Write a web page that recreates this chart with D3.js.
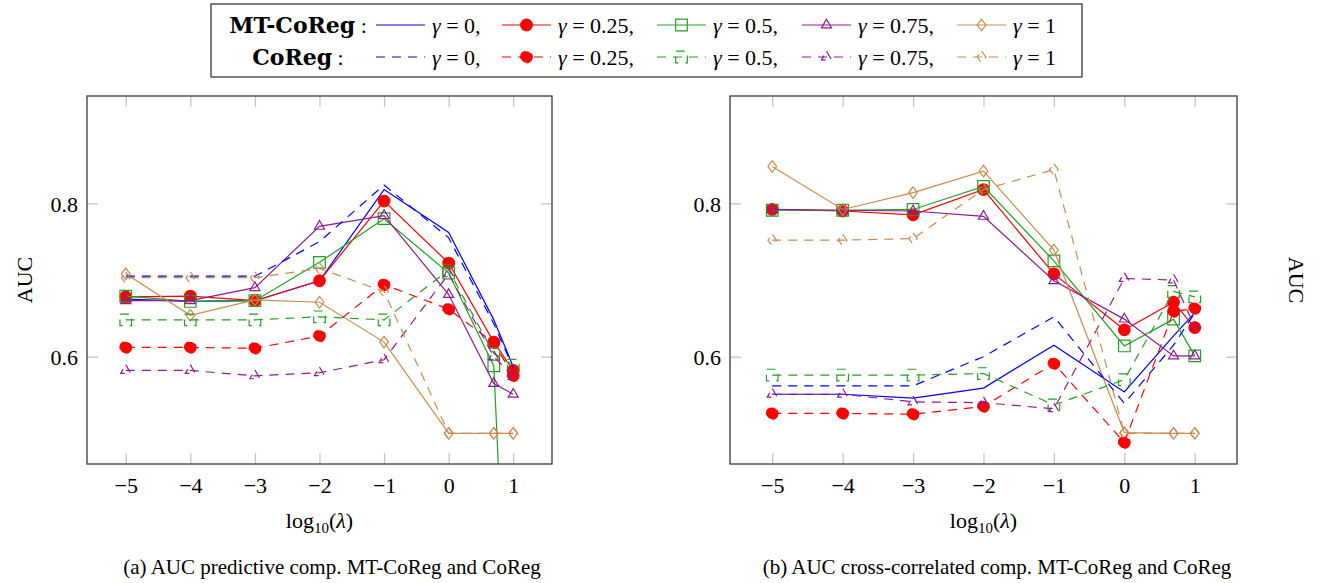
<!DOCTYPE html>
<html>
<head>
<meta charset="utf-8">
<script src="https://cdn.jsdelivr.net/npm/d3@7"></script>
<style>
  body { margin: 0; background: #fff; }
  svg text { font-family: "Liberation Serif", "DejaVu Serif", serif; fill: #000; }
</style>
</head>
<body>
<div id="chart"></div>
<script>
// x positions: log10(lambda); the 7th point is log10(5)
const xVals = [-5, -4, -3, -2, -1, 0, 0.699, 1];
const xTicks = [-5, -4, -3, -2, -1, 0, 1];
const yTicks = [0.6, 0.8];
const gammaLabels = ["0", "0.25", "0.5", "0.75", "1"];

// (a) AUC predictive comp.
const aMT0   = [0.675, 0.672, 0.673, 0.699, 0.818, 0.762, 0.648, 0.587];
const aMT025 = [0.678, 0.679, 0.673, 0.699, 0.803, 0.722, 0.619, 0.582];
const aMT05  = [0.679, 0.672, 0.673, 0.723, 0.780, 0.709, 0.588, 0.030];
const aMT075 = [0.673, 0.673, 0.690, 0.770, 0.784, 0.681, 0.565, 0.551];
const aMT1   = [0.708, 0.654, 0.674, 0.671, 0.619, 0.500, 0.500, 0.500];
const aCo0   = [0.705, 0.705, 0.705, 0.750, 0.824, 0.755, 0.643, 0.585];
const aCo025 = [0.612, 0.612, 0.611, 0.627, 0.694, 0.662, 0.618, 0.575];
const aCo05  = [0.648, 0.648, 0.648, 0.652, 0.648, 0.713, 0.604, 0.589];
const aCo075 = [0.582, 0.582, 0.575, 0.579, 0.596, 0.708, 0.600, 0.574];
const aCo1   = [0.703, 0.703, 0.703, 0.715, 0.685, 0.500, 0.500, 0.500];

// (b) AUC cross-correlated comp.
const bMT0   = [0.551, 0.551, 0.546, 0.559, 0.615, 0.554, 0.627, 0.657];
const bMT025 = [0.792, 0.790, 0.785, 0.818, 0.708, 0.635, 0.671, 0.638];
const bMT05  = [0.791, 0.791, 0.792, 0.822, 0.725, 0.614, 0.649, 0.601];
const bMT075 = [0.792, 0.791, 0.790, 0.783, 0.699, 0.649, 0.601, 0.601];
const bMT1   = [0.848, 0.792, 0.814, 0.842, 0.739, 0.501, 0.500, 0.500];
const bCo0   = [0.562, 0.562, 0.562, 0.600, 0.652, 0.539, 0.615, 0.657];
const bCo025 = [0.526, 0.526, 0.525, 0.535, 0.591, 0.488, 0.659, 0.663];
const bCo05  = [0.576, 0.576, 0.576, 0.578, 0.537, 0.570, 0.685, 0.678];
const bCo075 = [0.551, 0.551, 0.541, 0.540, 0.532, 0.702, 0.700, 0.639];
const bCo1   = [0.752, 0.752, 0.754, 0.818, 0.844, 0.500, 0.500, 0.500];

// styles per gamma
const colors = ["#0000ff", "#ff0000", "#22a022", "#8e1b8e", "#c98b4e"];
const marks = ["none", "circle", "square", "triangle", "diamond"];
const dash = "9,7";
const R = 5.8;

const W = 1329, H = 583;
const plotTop = 96, plotBottom = 464;

const svg = d3.select("#chart").append("svg")
    .attr("width", W)
    .attr("height", H);

function markPath(type) {
    if (type === "square") return `M${-R},${-R}H${R}V${R}H${-R}Z`;
    if (type === "triangle") return `M0,${-R}L${0.866 * R},${0.5 * R}L${-0.866 * R},${0.5 * R}Z`;
    if (type === "diamond") return `M0,${-R}L${0.75 * R},0L0,${R}L${-0.75 * R},0Z`;
    if (type === "circle") return d3.symbol(d3.symbolCircle, Math.PI * R * R)();
    return null;
}

function drawMarks(g, pts, k, dashed) {
    if (marks[k] === "none") return;
    g.selectAll(null)
        .data(pts)
      .enter().append("path")
        .attr("transform", d => `translate(${d[0]},${d[1]})`)
        .attr("d", markPath(marks[k]))
        .attr("fill", marks[k] === "circle" ? colors[k] : "none")
        .attr("stroke", colors[k])
        .attr("stroke-width", 1.2)
        .attr("stroke-dasharray", dashed ? dash : null);
}

const panels = [
    { id: "a", left: 87, right: 552, ylabX: 24, ylabRot: -90, capX: 332,
      series: [aMT0, aMT025, aMT05, aMT075, aMT1, aCo0, aCo025, aCo05, aCo075, aCo1],
      caption: "(a) AUC predictive comp. MT-CoReg and CoReg" },
    { id: "b", left: 730, right: 1237, ylabX: 1297, ylabRot: 90, capX: 997,
      series: [bMT0, bMT025, bMT05, bMT075, bMT1, bCo0, bCo025, bCo05, bCo075, bCo1],
      caption: "(b) AUC cross-correlated comp. MT-CoReg and CoReg" }
];

panels.forEach(p => {
    const x = d3.scaleLinear().domain([-5.6, 1.6]).range([p.left, p.right]);
    const y = d3.scaleLinear().domain([0.46, 0.94]).range([plotBottom, plotTop]);

    // inward gray ticks on all four sides
    const tickStyle = sel => {
        sel.select(".domain").remove();
        sel.selectAll(".tick line").attr("stroke", "#c4c4c4").attr("stroke-width", 1.3);
    };
    svg.append("g")
        .attr("transform", `translate(0,${plotBottom})`)
        .call(d3.axisBottom(x).tickValues(xTicks).tickFormat(d3.format("d")).tickSizeInner(-11).tickSizeOuter(0))
        .call(tickStyle)
        .call(s => s.selectAll("text").attr("y", 21).attr("dy", "0.35em")
            .style("font-size", "22px").style("font-family", "Liberation Serif"));
    svg.append("g")
        .attr("transform", `translate(0,${plotTop})`)
        .call(d3.axisTop(x).tickValues(xTicks).tickFormat("").tickSizeInner(-11).tickSizeOuter(0))
        .call(tickStyle);
    svg.append("g")
        .attr("transform", `translate(${p.left},0)`)
        .call(d3.axisLeft(y).tickValues(yTicks).tickFormat(d3.format(".1f")).tickSizeInner(-11).tickSizeOuter(0))
        .call(tickStyle)
        .call(s => s.selectAll("text").attr("x", -9).attr("dy", "0.35em")
            .style("font-size", "22px").style("font-family", "Liberation Serif"));
    svg.append("g")
        .attr("transform", `translate(${p.right},0)`)
        .call(d3.axisRight(y).tickValues(yTicks).tickFormat("").tickSizeInner(-11).tickSizeOuter(0))
        .call(tickStyle);

    // plot area clip
    svg.append("clipPath").attr("id", "clip-" + p.id)
      .append("rect")
        .attr("x", p.left).attr("y", plotTop)
        .attr("width", p.right - p.left).attr("height", plotBottom - plotTop);

    const plot = svg.append("g").attr("clip-path", `url(#clip-${p.id})`);
    const line = d3.line().x(d => d[0]).y(d => d[1]);

    p.series.forEach((vals, i) => {
        const k = i % 5;
        const dashed = i >= 5;
        const pts = vals.map((v, j) => [x(xVals[j]), y(v)]);
        const g = plot.append("g");
        g.append("path")
            .attr("d", line(pts))
            .attr("fill", "none")
            .attr("stroke", colors[k])
            .attr("stroke-width", 1.2)
            .attr("stroke-dasharray", dashed ? dash : null);
        drawMarks(g, pts, k, dashed);
    });

    // frame
    svg.append("rect")
        .attr("x", p.left).attr("y", plotTop)
        .attr("width", p.right - p.left).attr("height", plotBottom - plotTop)
        .attr("fill", "none")
        .attr("stroke", "#3a3a3a")
        .attr("stroke-width", 1.3);

    // axis labels
    const cx = (p.left + p.right) / 2;
    const xl = svg.append("text")
        .attr("x", cx).attr("y", 528)
        .attr("text-anchor", "middle")
        .style("font-size", "22px");
    xl.append("tspan").text("log");
    xl.append("tspan").attr("dy", 5).style("font-size", "15px").text("10");
    xl.append("tspan").attr("dy", -5).text("(");
    xl.append("tspan").style("font-style", "italic").text("λ");
    xl.append("tspan").text(")");

    svg.append("text")
        .attr("transform", `translate(${p.ylabX},${(plotTop + plotBottom) / 2}) rotate(${p.ylabRot})`)
        .attr("text-anchor", "middle")
        .attr("dy", "0.35em")
        .style("font-size", "22px")
        .text("AUC");

    svg.append("text")
        .attr("x", p.capX).attr("y", 574)
        .attr("text-anchor", "middle")
        .style("font-size", "21px")
        .text(p.caption);
});

// legend
const legend = svg.append("g");
legend.append("rect")
    .attr("x", 211).attr("y", 4)
    .attr("width", 871).attr("height", 73)
    .attr("fill", "#fff")
    .attr("stroke", "#3a3a3a")
    .attr("stroke-width", 1.3);

const rowY = [25, 57];
const rowNames = ["MT-CoReg", "CoReg"];
const sampleX = [376, 502, 657, 802, 957];
const sampleLen = 49;

rowNames.forEach((name, r) => {
    const t = legend.append("text")
        .attr("x", 298).attr("y", rowY[r])
        .attr("dy", "0.35em")
        .attr("text-anchor", "middle")
        .style("font-size", "22px");
    t.append("tspan").style("font-family", "DejaVu Serif").style("font-weight", "bold").text(name);
    t.append("tspan").text(" :");

    gammaLabels.forEach((gl, k) => {
        const x0 = sampleX[k];
        const g = legend.append("g");
        g.append("line")
            .attr("x1", x0).attr("x2", x0 + sampleLen)
            .attr("y1", rowY[r]).attr("y2", rowY[r])
            .attr("stroke", colors[k])
            .attr("stroke-width", 1.2)
            .attr("stroke-dasharray", r === 1 ? dash : null);
        drawMarks(g, [[x0 + sampleLen / 2, rowY[r]]], k, r === 1);

        const lt = legend.append("text")
            .attr("x", x0 + sampleLen + 7).attr("y", rowY[r])
            .attr("dy", "0.35em")
            .style("font-size", "22px");
        lt.append("tspan").style("font-style", "italic").text("γ");
        lt.append("tspan").text(" = " + gl + (k < 4 ? "," : ""));
    });
});
</script>
</body>
</html>
